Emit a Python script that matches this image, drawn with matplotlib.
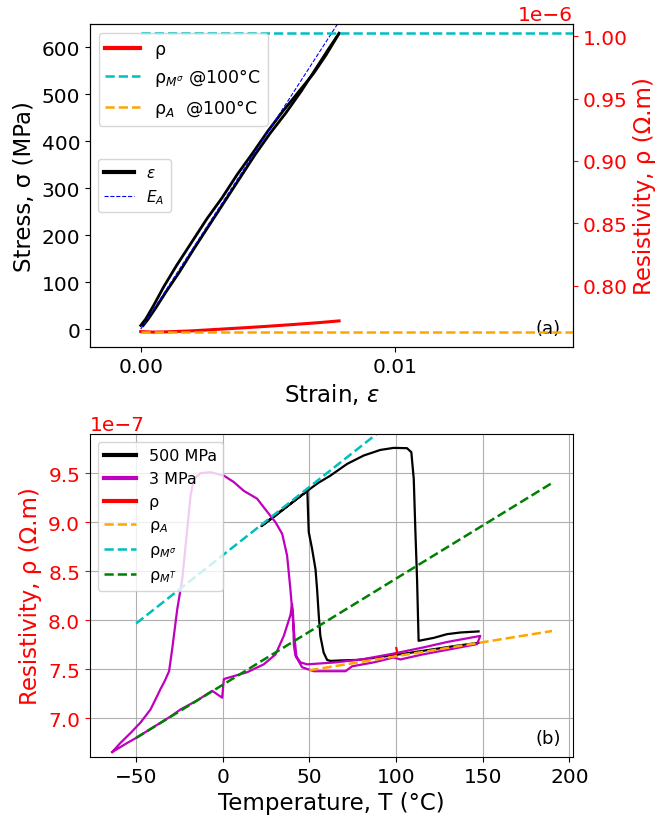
import matplotlib
matplotlib.use("Agg")
import matplotlib.pyplot as plt
from matplotlib.ticker import FormatStrFormatter
import numpy as np

# --- (a) isothermal tensile test at 100°C ---
strain_load = [0.0, 0.0002, 0.0005, 0.0009, 0.0014, 0.0020, 0.0026, 0.0032,
               0.0038, 0.0044, 0.0050, 0.0056, 0.0062, 0.0068, 0.0073, 0.0078]
stress_load = [8, 22, 50, 90, 135, 185, 235, 280, 330, 375, 422, 465, 505,
               545, 585, 630]
strain_unload = [0.0078, 0.0074, 0.0069, 0.0063, 0.0057, 0.0051, 0.0045,
                 0.0039, 0.0033, 0.0027, 0.0021, 0.0015, 0.0010, 0.0006,
                 0.0003, 0.0001]
stress_unload = [630, 598, 556, 506, 460, 418, 372, 322, 272, 222, 172, 120,
                 80, 46, 22, 8]

rho_strain = [0.0, 0.0005, 0.001, 0.002, 0.003, 0.004, 0.005, 0.006, 0.007, 0.0078]
rho_iso = [0.7630e-6, 0.7626e-6, 0.7628e-6, 0.7636e-6, 0.7648e-6, 0.7660e-6,
           0.7673e-6, 0.7687e-6, 0.7702e-6, 0.7716e-6]
rho_iso_T = [100.0, 99.8, 99.6, 99.5, 99.7, 100.0, 100.3, 100.5, 100.3, 100.1]

E_A = 84000.0  # MPa
E_A_strain = [0.0, 0.0080]
rho_Msig_100 = 1.003e-6
rho_A_100 = 0.7626e-6
ref_strain = [0.0, 0.02]

# --- (b) thermal cycles ---
T_500 = [147.6, 135, 120, 105, 95, 85, 77.5, 68, 62.1, 60.2, 58.2, 56.3, 55.4,
         54.4, 53.5, 51.5, 49.6, 49.2, 48.8, 40, 30, 22.3, 30, 40, 48.8, 55,
         62.1, 71.7, 81.3, 90.9, 98.6, 106.3, 108.8, 110.2, 111.1, 112.1, 113.0,
         121.7, 129.4, 137.1, 147.6]
rho_500 = [7.77, 7.74, 7.70, 7.66, 7.635, 7.61, 7.595, 7.59, 7.585, 7.595,
           7.67, 7.84, 8.045, 8.32, 8.52, 8.73, 8.90, 9.10, 9.32, 9.20, 9.06,
           8.96, 9.07, 9.20, 9.32, 9.40, 9.475, 9.594, 9.68, 9.737, 9.758,
           9.755, 9.714, 9.44, 8.93, 8.42, 7.79, 7.82, 7.858, 7.875, 7.886]

T_3 = [-63.8, -55, -50, -40, -30, -24.4, -15, -6.1, -0.35, 0.6, 6.3, 14.1,
       23.6, 30.4, 35.2, 39.0, 40.0, 40.6, 41.0, 41.9, 45.8, 52.5, 60, 70.8,
       74.6, 87.1, 98.6, 102.5, 115, 130, 146.7,
       148.6, 130, 115, 98.6, 80, 65, 48.7, 44.8, 42.5, 41.5, 40.5, 39.0,
       37.1, 34.3, 30.4, 24.6, 19.8, 12.1, 6.3, 0.6, -7.1, -12.9, -16.7,
       -18.6, -20.5, -23.4, -26.3, -29.2, -31, -33.5, -35.9, -37.8, -41.7,
       -47.5, -53.2, -59, -63.8]
rho_3 = [6.656, 6.75, 6.80, 6.91, 7.02, 7.09, 7.18, 7.28, 7.21, 7.40, 7.43,
         7.47, 7.55, 7.65, 7.84, 8.05, 8.16, 8.05, 7.75, 7.64, 7.52, 7.48,
         7.48, 7.48, 7.53, 7.57, 7.62, 7.60, 7.65, 7.70, 7.756,
         7.84, 7.78, 7.72, 7.66, 7.60, 7.57, 7.55, 7.57, 7.63, 7.80, 8.00,
         8.32, 8.66, 8.88, 9.00, 9.13, 9.24, 9.32, 9.41, 9.475, 9.51, 9.50,
         9.44, 9.27, 8.93, 8.42, 8.11, 7.705, 7.48, 7.38, 7.30, 7.23, 7.09,
         6.956, 6.85, 6.75, 6.656]

T_A = [50, 190]
rho_A = [7.49, 7.89]
T_Msig = [-50, 190]
rho_Msig = [7.967, 11.31]
T_MT = [-50, 190]
rho_MT = [6.80, 9.40]

TICK_FS = 14.5
LABEL_FS = 16.5

fig, (ax1, ax3) = plt.subplots(2, 1, figsize=(6.56, 8.2), dpi=100)
fig.subplots_adjust(left=0.137, right=0.8735, bottom=0.0756, top=0.9695, hspace=0.269)

# --- Panel (a) ---
ax1.plot(strain_load, stress_load, color="black", lw=2, label=r"$\varepsilon$")
ax1.plot(strain_unload, stress_unload, color="black", lw=2)
ax1.plot(E_A_strain, E_A * np.array(E_A_strain), color="blue", lw=0.8,
         linestyle="--", label=r"$E_A$")
ax1.set_xlim(-0.002, 0.017)
ax1.set_ylim(-38, 650)
ax1.set_xticks([0.0, 0.01])
ax1.xaxis.set_major_formatter(FormatStrFormatter("%.2f"))
ax1.set_xlabel(r"Strain, $\varepsilon$", fontsize=LABEL_FS)
ax1.set_ylabel("Stress, σ (MPa)", fontsize=LABEL_FS)
ax1.tick_params(labelsize=TICK_FS)
leg1 = ax1.legend(loc="center left", fontsize=11)
leg1.get_lines()[0].set_linewidth(3)

ax2 = ax1.twinx()
ax2.plot(rho_strain, rho_iso, color="red", lw=2.2, label="ρ")
ax2.plot(ref_strain, [rho_Msig_100] * 2, color="c", lw=1.8, linestyle="--",
         label=r"ρ$_{M^{σ}}$ @100°C")
ax2.plot(ref_strain, [rho_A_100] * 2, color="orange", lw=1.8, linestyle="--",
         label=r"ρ$_A$  @100°C")
ax2.set_ylim(0.7506e-6, 1.0099e-6)
ax2.set_ylabel("Resistivity, ρ (Ω.m)", color="red", fontsize=LABEL_FS)
ax2.tick_params(axis="y", colors="red", labelsize=TICK_FS)
ax2.yaxis.get_offset_text().set_fontsize(TICK_FS)
ax2.yaxis.get_offset_text().set_color("red")
leg2 = ax2.legend(loc="upper left", fontsize=12.5)
leg2.get_lines()[0].set_linewidth(3)
ax1.text(0.975, 0.03, "(a)", transform=ax1.transAxes, ha="right", va="bottom", fontsize=13)

# --- Panel (b) ---
sc = 1e-7
ax3.plot(T_500, np.array(rho_500) * sc, color="black", lw=1.6, label="500 MPa")
ax3.plot(T_3, np.array(rho_3) * sc, color="m", lw=1.6, label="3 MPa")
ax3.plot(rho_iso_T, rho_iso, color="red", lw=1.6, label="ρ")
ax3.plot(T_A, np.array(rho_A) * sc, color="orange", lw=1.8, linestyle="--", label=r"ρ$_A$")
ax3.plot(T_Msig, np.array(rho_Msig) * sc, color="c", lw=1.8, linestyle="--", label=r"ρ$_{M^{σ}}$")
ax3.plot(T_MT, np.array(rho_MT) * sc, color="green", lw=1.8, linestyle="--", label=r"ρ$_{M^{T}}$")
ax3.set_xlim(-76.7, 202.1)
ax3.set_ylim(6.605e-7, 9.90e-7)
ax3.grid(True)
ax3.set_xlabel("Temperature, T (°C)", fontsize=LABEL_FS)
ax3.set_ylabel("Resistivity, ρ (Ω.m)", color="red", fontsize=LABEL_FS)
ax3.tick_params(labelsize=TICK_FS)
ax3.tick_params(axis="y", colors="red")
ax3.yaxis.get_offset_text().set_fontsize(TICK_FS)
ax3.yaxis.get_offset_text().set_color("red")
leg3 = ax3.legend(loc="upper left", fontsize=11.5)
for ln in leg3.get_lines()[:3]:
    ln.set_linewidth(3)
ax3.text(0.975, 0.03, "(b)", transform=ax3.transAxes, ha="right", va="bottom", fontsize=13)

fig.savefig("out.png", dpi=100)
